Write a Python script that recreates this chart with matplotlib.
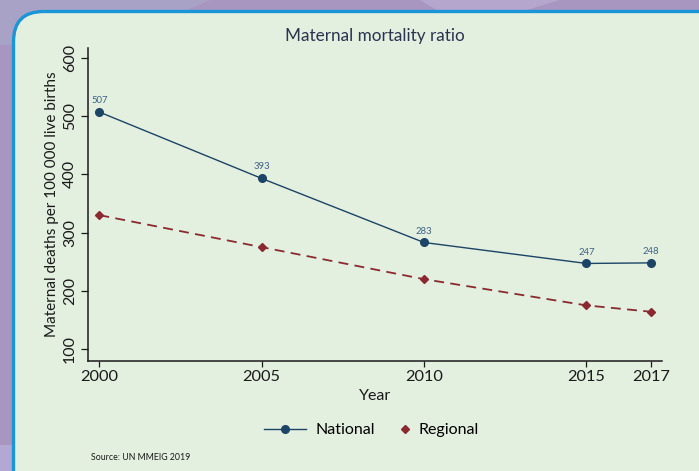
import matplotlib
matplotlib.use("Agg")
import matplotlib.pyplot as plt
from matplotlib.patches import FancyBboxPatch, Polygon
from matplotlib.lines import Line2D

years = [2000, 2005, 2010, 2015, 2017]
national = [507, 393, 283, 247, 248]
regional = [330, 275, 220, 175, 164]
yticks = [100, 200, 300, 400, 500, 600]

title = "Maternal mortality ratio"
ylabel = "Maternal deaths per 100 000 live births"
xlabel = "Year"
source = "Source: UN MMEIG 2019"

plt.rcParams['font.family'] = ['Lato', 'DejaVu Sans']

W, H = 699, 471
fig = plt.figure(figsize=(W / 100, H / 100), dpi=100)
fig.patch.set_facecolor("#a996c0")

# background decoration + panel in pixel coords
bg = fig.add_axes([0, 0, 1, 1])
bg.set_xlim(0, W)
bg.set_ylim(H, 0)
bg.axis("off")
bg.add_patch(Polygon([[0, 0], [210, 0], [120, 40], [0, 45]], closed=True,
                     facecolor="#a8a3c6", edgecolor="none"))
bg.add_patch(Polygon([[420, 0], [560, 0], [520, 12], [440, 12]], closed=True,
                     facecolor="#b4a6cc", edgecolor="none"))
bg.add_patch(Polygon([[0, 445], [20, 445], [20, 471], [0, 471]], closed=True,
                     facecolor="#b3a8d4", edgecolor="none"))
panel = FancyBboxPatch((13.5, 11.5), 720, 500,
                       boxstyle="round,pad=0,rounding_size=30",
                       facecolor="#e3efdf", edgecolor="#1a95d8", linewidth=2.4)
bg.add_patch(panel)

ax = fig.add_axes([88 / W, 1 - 360.7 / H, 574 / W, 312.7 / H])
ax.set_facecolor("none")
ax.set_xlim(1999.65, 2017.33)
ax.set_ylim(80, 617)

nat_col = "#1c4466"
reg_col = "#8a2a30"
ax.plot(years, national, color=nat_col, lw=1.0, marker="o", ms=5.5,
        markeredgecolor=nat_col, zorder=3)
ax.plot(years, regional, color=reg_col, lw=1.3, ls=(0, (5.5, 3.5)), marker="D",
        ms=4, markeredgecolor=reg_col, zorder=3)

for x, v in zip(years, national):
    ax.annotate(str(v), (x, v), xytext=(0, 5), textcoords="offset points",
                ha="center", va="bottom", fontsize=6.8, color="#3f6284")

for s in ["top", "right"]:
    ax.spines[s].set_visible(False)
for s in ["left", "bottom"]:
    ax.spines[s].set_linewidth(1.1)
    ax.spines[s].set_color("#1a1a1a")

ax.set_xticks(years)
ax.set_xticklabels([str(y) for y in years])
ax.set_yticks(yticks)
ax.set_yticklabels([str(t) for t in yticks], rotation=90, va="center")
ax.tick_params(axis="x", length=4, width=0.9, labelsize=11.8, pad=3, colors="#1a1a1a")
ax.tick_params(axis="y", length=5, width=0.9, labelsize=11.5, pad=3, colors="#1a1a1a")

ax.set_xlabel(xlabel, fontsize=11.5, color="#1a1a1a", labelpad=3)
ax.set_ylabel(ylabel, fontsize=11, color="#1a1a1a", labelpad=3)
ax.set_title(title, fontsize=12.3, color="#2a3350", pad=5)

h1 = Line2D([], [], color=nat_col, lw=1.0, marker="o", ms=5.5)
leg1 = fig.legend(handles=[h1], labels=["National"], loc="center left",
                  bbox_to_anchor=(250 / W, 1 - 430 / H), frameon=False,
                  fontsize=11.5, handlelength=2.6, handletextpad=0.6)
h2 = Line2D([], [], color=reg_col, lw=0, marker="D", ms=4)
leg2 = fig.legend(handles=[h2], labels=["Regional"], loc="center left",
                  bbox_to_anchor=(384 / W, 1 - 430 / H), frameon=False,
                  fontsize=11.5, handlelength=0.8, handletextpad=0.45)

fig.text(91 / W, 1 - 457 / H, source, fontsize=6.3, color="#1a1a1a",
         ha="left", va="center")

fig.savefig("out.png", dpi=100)
